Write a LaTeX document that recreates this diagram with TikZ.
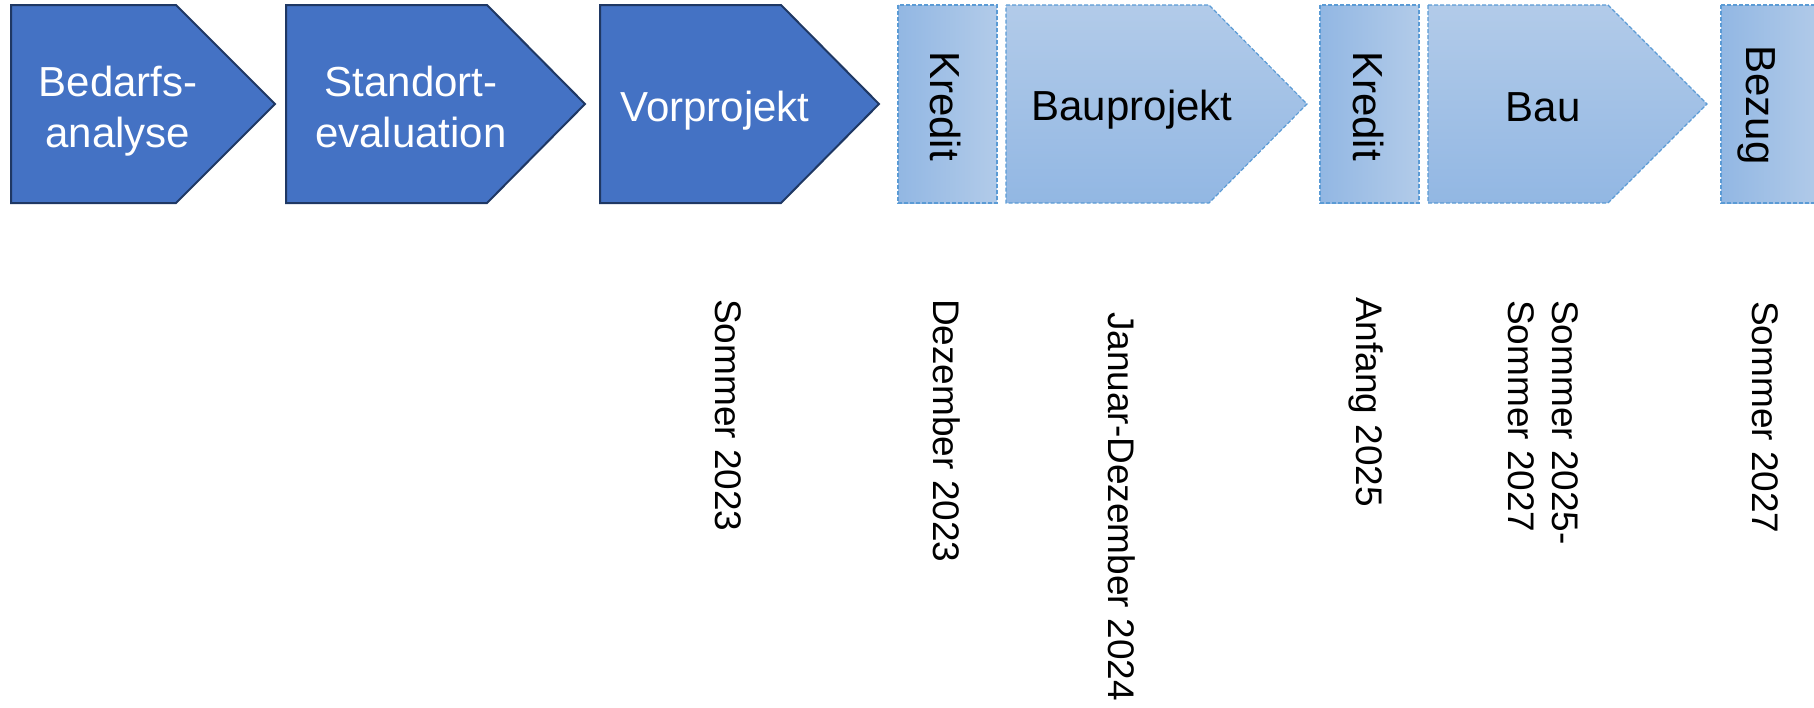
\documentclass[tikz,border=0pt]{standalone}
\usepackage{fontspec}
\setmainfont{Liberation Sans}
\definecolor{darkfill}{HTML}{4472C4}
\definecolor{darkedge}{HTML}{1F3864}
\definecolor{lightA}{HTML}{B2CBE9}
\definecolor{lightB}{HTML}{92B7E3}
\definecolor{lightedge}{HTML}{5B9BD5}
\tikzset{
  darkshape/.style={fill=darkfill, draw=darkedge, line width=2pt, line join=miter},
  lightrect/.style={left color=lightB, right color=lightA, draw=lightedge, line width=1.2pt, dash pattern=on 4pt off 2pt},
  lightchev/.style={top color=lightA, bottom color=lightB, draw=lightedge, line width=1.2pt, dash pattern=on 4pt off 2pt},
  darktext/.style={text=white, font=\fontsize{42}{51}\selectfont, inner sep=0pt, align=center, anchor=base},
  lighttext/.style={text=black, font=\fontsize{42}{51}\selectfont, inner sep=0pt, anchor=base},
  datetext/.style={text=black, font=\fontsize{37}{44}\selectfont, inner sep=0pt, rotate=-90, anchor=base west, align=left}
}
\begin{document}
\begin{tikzpicture}[x=1pt, y=-1pt]
\useasboundingbox (0,0) rectangle (1814,707);
\clip (0,0) rectangle (1814,707);
% dark chevrons
\path[darkshape] (11,5) -- (176,5) -- (275,104) -- (176,203) -- (11,203) -- cycle;
\path[darkshape] (286,5) -- (487,5) -- (585,104) -- (487,203) -- (286,203) -- cycle;
\path[darkshape] (600,5) -- (781,5) -- (879,104) -- (781,203) -- (600,203) -- cycle;
% light shapes
\path[lightrect] (898,5) rectangle (997,203);
\path[lightchev] (1006,5) -- (1209,5) -- (1307,104) -- (1209,203) -- (1006,203) -- cycle;
\path[lightrect] (1320,5) rectangle (1419,203);
\path[lightchev] (1428,5) -- (1608,5) -- (1707,104) -- (1608,203) -- (1428,203) -- cycle;
\path[lightrect] (1721,5) rectangle (1822,203);
% texts in shapes (multi-line nodes: base = last line)
\node[darktext] (t1) at (118,147) {Bedarfs-\\analyse};
\node[darktext] (t2) at (411,147) {Standort-\\evaluation};
\node[darktext] (t3) at (715,121) {Vorprojekt};
\node[lighttext, rotate=-90] (t4) at (930,106) {Kredit};
\node[lighttext] (t5) at (1132,120) {Bauprojekt};
\node[lighttext, rotate=-90] (t6) at (1353,106) {Kredit};
\node[lighttext] (t7) at (1543,121) {Bau};
\node[lighttext, rotate=-90] (t8) at (1746,105) {Bezug};
% dates
\node[datetext] (d1) at (715,299) {Sommer 2023};
\node[datetext] (d2) at (933,299) {Dezember 2023};
\node[datetext] (d3) at (1108,312) {Januar-Dezember 2024};
\node[datetext] (d4) at (1356,297) {Anfang 2025};
\node[datetext] (d5) at (1508,300) {Sommer 2025-\\Sommer 2027};
\node[datetext] (d6) at (1752,301) {Sommer 2027};
\end{tikzpicture}
\end{document}
